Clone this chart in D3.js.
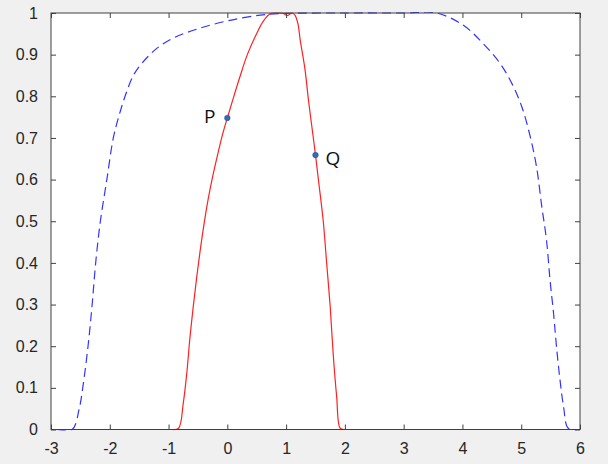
<!DOCTYPE html>
<html>
<head>
<meta charset="utf-8">
<script src="https://cdn.jsdelivr.net/npm/d3@7"></script>
<style>
  html, body { margin: 0; padding: 0; background: #f0f0f0; }
  svg { display: block; }
</style>
</head>
<body>
<svg id="chart" width="608" height="464"></svg>
<script>
// ---- data ----
const redX = [-0.95, -0.83, -0.75, -0.69, -0.64, -0.58, -0.52, -0.46, -0.40, -0.33, -0.25, -0.16, -0.08, 0, 0.1, 0.21, 0.34, 0.5, 0.61, 0.73, 0.85, 0.95, 1.02, 1.1, 1.15, 1.2, 1.24, 1.32, 1.38, 1.44, 1.5, 1.55, 1.63, 1.69, 1.75, 1.8, 1.86, 1.92, 2.0];
const redY = [0, 0.003, 0.063, 0.135, 0.215, 0.295, 0.367, 0.432, 0.49, 0.55, 0.607, 0.663, 0.709, 0.748, 0.795, 0.845, 0.9, 0.951, 0.98, 0.998, 1.0, 0.999, 0.994, 1.0, 0.995, 0.975, 0.935, 0.866, 0.791, 0.725, 0.659, 0.599, 0.503, 0.399, 0.295, 0.183, 0.079, 0.003, 0];

const blueX = [-2.9, -2.64, -2.52, -2.46, -2.37, -2.30, -2.24, -2.16, -2.05, -1.94, -1.85, -1.74, -1.6, -1.45, -1.2, -0.92, -0.5, 0, 0.56, 1.01, 2, 3, 3.56, 4.01, 4.35, 4.64, 4.84, 5.01, 5.15, 5.26, 5.35, 5.43, 5.49, 5.55, 5.6, 5.66, 5.72, 5.8, 5.95];
const blueY = [0, 0, 0.05, 0.1, 0.2, 0.3, 0.4, 0.5, 0.6, 0.7, 0.75, 0.8, 0.85, 0.88, 0.915, 0.94, 0.962, 0.981, 0.995, 0.999, 1.0, 1.0, 1.0, 0.971, 0.927, 0.879, 0.831, 0.775, 0.705, 0.631, 0.535, 0.455, 0.359, 0.279, 0.199, 0.119, 0.055, 0.003, 0];

const pointNames = ["P", "Q"];
const pointX = [0, 1.5];
const pointY = [0.748, 0.659];

const xTicks = [-3, -2, -1, 0, 1, 2, 3, 4, 5, 6];
const yTicks = [0, 0.1, 0.2, 0.3, 0.4, 0.5, 0.6, 0.7, 0.8, 0.9, 1];
const xTickLabels = ["-3", "-2", "-1", "0", "1", "2", "3", "4", "5", "6"];
const yTickLabels = ["0", "0.1", "0.2", "0.3", "0.4", "0.5", "0.6", "0.7", "0.8", "0.9", "1"];

// ---- layout ----
const svg = d3.select("#chart");
const L = 51, R = 580, T = 13, B = 429.5;
const x = d3.scaleLinear().domain([-3, 6]).range([L, R]);
const y = d3.scaleLinear().domain([0, 1]).range([B, T]);

svg.append("rect").attr("x", 0).attr("y", 0).attr("width", 608).attr("height", 464).attr("fill", "#f0f0f0");
svg.append("rect").attr("x", L).attr("y", T).attr("width", R - L).attr("height", B - T).attr("fill", "#ffffff");

const clip = svg.append("clipPath").attr("id", "clip");
clip.append("rect").attr("x", L).attr("y", T - 1).attr("width", R - L).attr("height", B - T + 2);

const line = d3.line().x(d => x(d[0])).y(d => y(d[1])).curve(d3.curveCatmullRom.alpha(0.5));

const g = svg.append("g").attr("clip-path", "url(#clip)");
g.append("path")
  .datum(blueX.map((v, i) => [v, blueY[i]]))
  .attr("d", line)
  .attr("fill", "none")
  .attr("stroke", "#3333ff")
  .attr("stroke-width", 1.2)
  .attr("stroke-dasharray", "9,5");

g.append("path")
  .datum(redX.map((v, i) => [v, redY[i]]))
  .attr("d", line)
  .attr("fill", "none")
  .attr("stroke", "#ff2020")
  .attr("stroke-width", 1.2);

// ---- axes ----
const axisColor = "#404040";
const font = "'Liberation Sans', Arial, sans-serif";
const tickLen = 5;

function styleAxis(sel, hideText) {
  sel.select(".domain").remove();
  sel.selectAll(".tick line").attr("stroke", axisColor);
  sel.selectAll(".tick text").attr("fill", "#262626").style("font-family", font).style("font-size", "16px");
  if (hideText) sel.selectAll(".tick text").remove();
}

svg.append("g").attr("transform", `translate(0,${B})`)
  .call(d3.axisBottom(x).tickValues(xTicks).tickSize(-tickLen).tickPadding(13).tickFormat((d, i) => xTickLabels[i]))
  .call(s => styleAxis(s, false));
svg.append("g").attr("transform", `translate(0,${T})`)
  .call(d3.axisTop(x).tickValues(xTicks).tickSize(-tickLen))
  .call(s => styleAxis(s, true));
svg.append("g").attr("transform", `translate(${L},0)`)
  .call(d3.axisLeft(y).tickValues(yTicks).tickSize(-tickLen).tickPadding(13).tickFormat((d, i) => yTickLabels[i]))
  .call(s => styleAxis(s, false));
svg.append("g").attr("transform", `translate(${R},0)`)
  .call(d3.axisRight(y).tickValues(yTicks).tickSize(-tickLen))
  .call(s => styleAxis(s, true));

svg.append("rect").attr("x", L).attr("y", T).attr("width", R - L).attr("height", B - T)
  .attr("fill", "none").attr("stroke", axisColor).attr("stroke-width", 1);

// ---- points & labels ----
svg.selectAll("circle.pt").data(pointX).enter().append("circle")
  .attr("class", "pt")
  .attr("cx", d => x(d)).attr("cy", (d, i) => y(pointY[i]))
  .attr("r", 2.8).attr("fill", "#2e6db8").attr("stroke", "#1f4f8f").attr("stroke-width", 0.5);

const labelFont = "'Open Sans', 'Noto Sans', sans-serif";
svg.selectAll("text.lbl").data(pointNames).enter().append("text")
  .attr("class", "lbl")
  .attr("x", (d, i) => x(pointX[i]) + (i === 0 ? -12 : 10))
  .attr("y", (d, i) => y(pointY[i]) + (i === 0 ? 5 : 10))
  .attr("text-anchor", (d, i) => i === 0 ? "end" : "start")
  .attr("fill", "#111")
  .style("font-family", labelFont)
  .style("font-size", "19px")
  .text(d => d);
</script>
</body>
</html>
